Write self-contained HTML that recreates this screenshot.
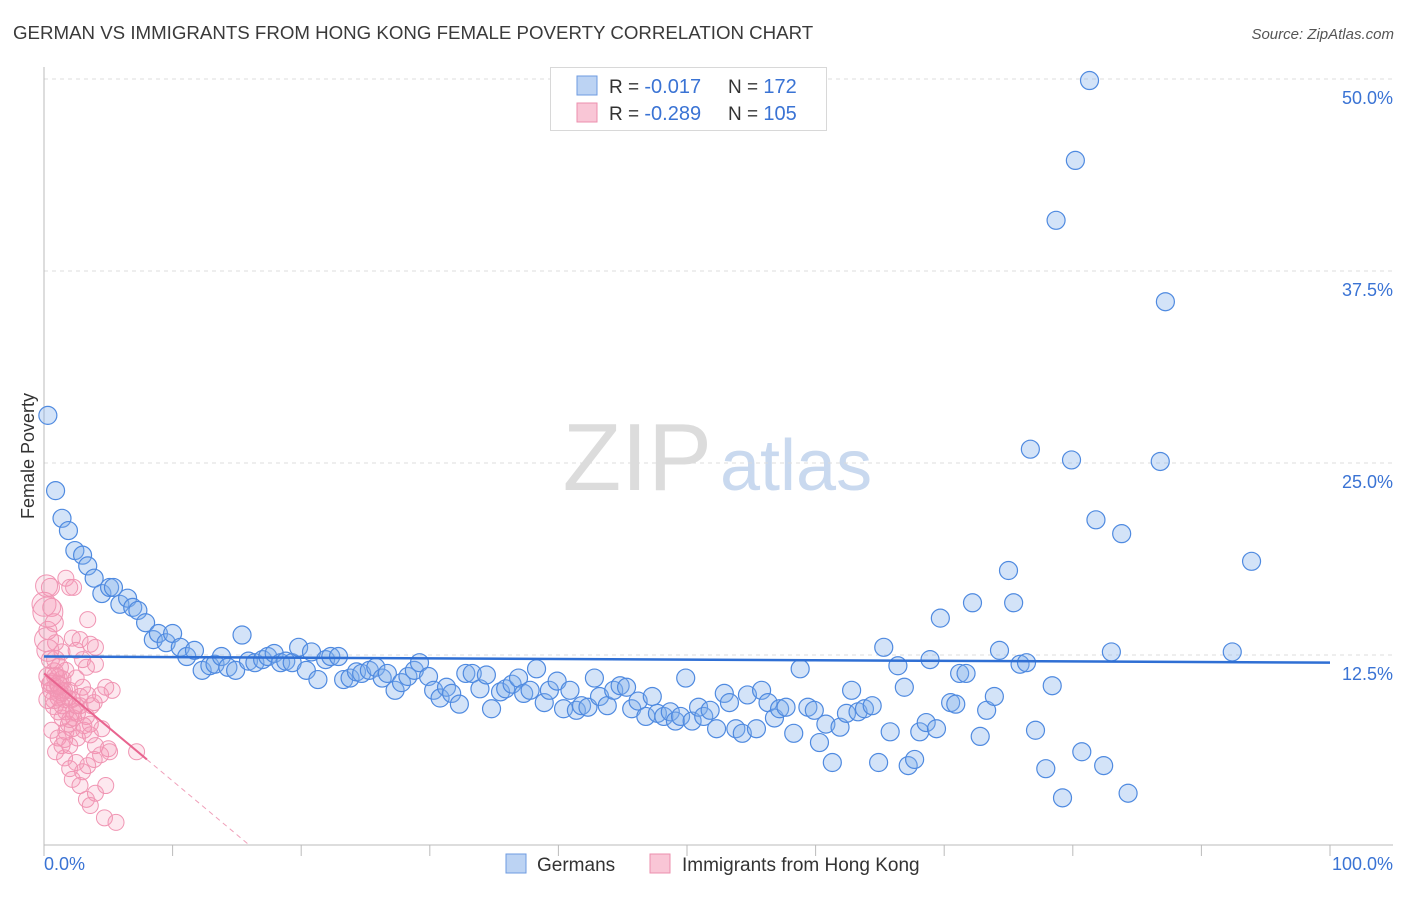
<!DOCTYPE html>
<html><head><meta charset="utf-8">
<style>
body{margin:0;background:#fff;font-family:"Liberation Sans",sans-serif;}
svg text{font-family:"Liberation Sans",sans-serif;}
</style></head>
<body>
<svg id="chart" width="1406" height="892" viewBox="0 0 1406 892" xmlns="http://www.w3.org/2000/svg">
<text x="13" y="39" font-size="18.7" fill="#3a3a3a">GERMAN VS IMMIGRANTS FROM HONG KONG FEMALE POVERTY CORRELATION CHART</text>
<text x="1394" y="39" font-size="15" fill="#555" font-style="italic" text-anchor="end">Source: ZipAtlas.com</text>
<g>
<text x="712" y="490" font-size="96" fill="#dcdcdc" text-anchor="end" font-family="Liberation Serif,serif">ZIP</text>
<text x="720" y="490" font-size="72" fill="#c9d9ef">atlas</text>
</g>
<g id="grid"></g>
<g id="axes"></g>
<g id="blue"></g>
<g id="pink"></g>
<g id="trends"></g>
<g>
<rect x="550.5" y="67.5" width="276" height="63" fill="#fff" stroke="#d8d8d8"/>
<rect x="577" y="76" width="20" height="19" fill="#bcd3f3" stroke="#6e9be0"/>
<rect x="577" y="103" width="20" height="19" fill="#f9c6d6" stroke="#ec8fae"/>
<text x="609" y="93" font-size="19" fill="#333">R = <tspan fill="#3a73d4" font-size="20">-0.017</tspan></text>
<text x="728" y="93" font-size="19" fill="#333">N = <tspan fill="#3a73d4" font-size="20"> 172</tspan></text>
<text x="609" y="120" font-size="19" fill="#333">R = <tspan fill="#3a73d4" font-size="20">-0.289</tspan></text>
<text x="728" y="120" font-size="19" fill="#333">N = <tspan fill="#3a73d4" font-size="20"> 105</tspan></text>
</g>
<g>
<rect x="506" y="854" width="20" height="19" fill="#bcd3f3" stroke="#6e9be0"/>
<text x="537" y="871" font-size="19" fill="#333">Germans</text>
<rect x="650" y="854" width="20" height="19" fill="#f9c6d6" stroke="#ec8fae"/>
<text x="682" y="871" font-size="19" fill="#333">Immigrants from Hong Kong</text>
</g>
<text transform="translate(34,456) rotate(-90)" font-size="18" fill="#333" text-anchor="middle">Female Poverty</text>
</svg>
<script>
const yTicks=[12.5,25,37.5,50];
const yTickLabels=["12.5%","25.0%","37.5%","50.0%"];
const xTickLabels=["0.0%","100.0%"];
const blueX=[0.3,0.9,1.4,1.9,2.4,3.0,3.4,3.9,4.5,5.1,5.4,5.9,6.5,6.9,7.3,7.9,8.5,8.9,9.5,10.0,10.6,11.1,11.7,12.3,12.9,13.3,13.8,14.3,14.9,15.4,15.9,16.4,17.0,17.4,17.9,18.4,18.8,19.3,19.8,20.4,20.8,21.3,21.9,22.3,22.9,23.3,23.8,24.3,24.7,25.3,25.8,26.3,26.7,27.3,27.8,28.3,28.8,29.2,29.9,30.3,30.8,31.3,31.7,32.3,32.8,33.3,33.9,34.4,34.8,35.5,35.9,36.4,36.9,37.3,37.8,38.3,38.9,39.3,39.9,40.4,40.9,41.4,41.8,42.3,42.8,43.2,43.8,44.3,44.8,45.3,45.7,46.2,46.8,47.3,47.7,48.2,48.7,49.1,49.5,49.9,50.4,50.9,51.3,51.8,52.3,52.9,53.3,53.8,54.3,54.7,55.4,55.8,56.3,56.8,57.2,57.7,58.3,58.8,59.4,59.9,60.3,60.8,61.3,61.9,62.4,62.8,63.3,63.8,64.4,64.9,65.3,65.8,66.4,66.9,67.2,67.7,68.1,68.6,68.9,69.4,69.7,70.5,70.9,71.2,71.7,72.2,72.8,73.3,73.9,74.3,75.0,75.4,75.9,76.4,76.7,77.1,77.9,78.4,78.7,79.2,79.9,80.2,80.7,81.3,81.8,82.4,83.0,83.8,84.3,86.8,87.2,92.4,93.9];
const blueY=[28.1,23.2,21.4,20.6,19.3,19.0,18.3,17.5,16.5,16.9,16.9,15.8,16.2,15.6,15.4,14.6,13.5,13.9,13.3,13.9,13.0,12.4,12.8,11.5,11.8,11.9,12.4,11.7,11.5,13.8,12.1,12.0,12.2,12.4,12.6,12.0,12.1,12.0,13.0,11.5,12.7,10.9,12.2,12.4,12.4,10.9,11.0,11.4,11.3,11.5,11.7,11.0,11.3,10.2,10.7,11.1,11.5,12.0,11.1,10.2,9.7,10.4,10.0,9.3,11.3,11.3,10.3,11.2,9.0,10.1,10.3,10.6,11.0,10.0,10.2,11.6,9.4,10.2,10.8,9.0,10.2,8.9,9.2,9.1,11.0,9.8,9.2,10.2,10.5,10.4,9.0,9.5,8.5,9.8,8.7,8.5,8.8,8.2,8.5,11.0,8.2,9.1,8.5,8.9,7.7,10.0,9.4,7.7,7.4,9.9,7.7,10.2,9.4,8.4,9.0,9.1,7.4,11.6,9.1,8.9,6.8,8.0,5.5,7.8,8.7,10.2,8.8,9.0,9.2,5.5,13.0,7.5,11.8,10.4,5.3,5.7,7.5,8.1,12.2,7.7,14.9,9.4,9.3,11.3,11.3,15.9,7.2,8.9,9.8,12.8,18.0,15.9,11.9,12.0,25.9,7.6,5.1,10.5,40.8,3.2,25.2,44.7,6.2,49.9,21.3,5.3,12.7,20.4,3.5,25.1,35.5,12.7,18.6];
const pinkX=[0.5,0.6,0.3,0.8,1.7,2.0,2.3,0.9,1.4,2.2,2.8,3.4,3.6,4.0,0.5,0.8,1.1,1.4,1.7,0.5,0.9,1.2,1.6,2.0,2.5,3.0,3.4,3.9,0.3,0.8,1.1,1.4,1.9,2.3,2.8,3.3,3.7,4.4,4.8,5.3,0.6,1.1,1.4,1.7,2.2,2.6,3.1,3.6,4.0,4.5,5.0,0.9,1.6,2.0,2.5,3.0,3.4,3.9,4.4,5.1,7.2,2.2,2.8,3.3,4.0,4.8,3.6,4.7,5.6,0.3,0.6,0.9,1.2,1.6,1.9,2.2,2.6,3.1,3.6,1.6,2.0,2.3,2.8,3.3,0.0,0.2,0.3,3.0,2.5,4.0,1.1,1.4,1.7,2.0,2.5,0.8,1.1,1.4,0.6,0.9,1.2,0.3,0.2];
const pinkY=[16.9,15.6,14.1,14.6,17.5,16.9,16.9,13.3,12.7,13.6,13.5,14.8,13.2,13.0,12.2,11.4,11.0,10.9,11.5,10.6,10.4,10.0,9.6,10.2,11.0,10.4,9.9,9.4,9.6,9.2,8.8,8.4,8.0,8.8,9.2,8.5,9.2,9.9,10.4,10.2,7.6,7.1,6.6,7.5,7.7,7.1,7.6,8.0,6.6,7.7,6.4,6.2,5.8,5.1,5.5,4.9,5.3,5.7,6.0,6.2,6.2,4.4,4.0,3.1,3.5,4.0,2.7,1.9,1.6,11.1,10.2,12.2,11.7,10.2,9.7,9.6,8.7,7.9,7.3,7.0,6.6,8.4,9.8,11.7,15.8,13.5,12.8,12.2,12.8,11.9,9.7,9.2,8.8,8.3,9.2,9.6,10.6,10.1,10.7,11.1,10.5,15.3,17.0];
const pinkR=[9,9,9,9,8,8,8,8,8,8,8,8,8,8,9,9,9,9,8,9,9,9,8,8,8,8,8,8,9,9,8,8,8,8,8,8,8,8,8,8,8,8,8,8,8,8,8,8,8,8,8,8,8,8,8,8,8,8,8,8,8,8,8,8,8,8,8,8,8,9,9,9,9,8,8,8,8,8,8,8,8,8,8,8,12,12,11,8,8,8,8,8,8,8,8,9,9,9,9,9,9,15,11];
const blueTrend=[12.4,12.0];
const pinkTrend=[11.3,5.7];
const pinkSolidEnd=8, pinkDashEnd=16;

const NS="http://www.w3.org/2000/svg";
const X0=44,X1=1330,Y0=847,PXY=15.36;
function sx(v){return X0+(X1-X0)*v/100;}
function sy(v){return Y0-v*PXY;}
function mk(tag,attrs,parent){const e=document.createElementNS(NS,tag);for(const k in attrs)e.setAttribute(k,attrs[k]);parent.appendChild(e);return e;}
const grid=document.getElementById('grid'),axes=document.getElementById('axes');
yTicks.forEach((t,i)=>{
  const l=mk('line',{x1:44,x2:1393,y1:sy(t),y2:sy(t),stroke:'#dcdcdc','stroke-dasharray':'4,4'},grid);
  
  
  const tx=mk('text',{x:1393,y:sy(t)+25,'font-size':18,fill:'#3a73d4','text-anchor':'end'},grid);
  tx.textContent=yTickLabels[i];
  
  
});
const ya=mk('line',{x1:44,x2:44,y1:67,y2:845,stroke:'#bbb'},axes);


const xa=mk('line',{x1:44,x2:1393,y1:845,y2:845,stroke:'#bbb'},axes);


for(let i=0;i<=10;i++){
  const tk=mk('line',{x1:sx(i*10),x2:sx(i*10),y1:845,y2:856,stroke:'#bbb'},axes);
  
  
}
const xl0=mk('text',{x:44,y:870,'font-size':18,fill:'#3a73d4'},axes);xl0.textContent=xTickLabels[0];


const xl1=mk('text',{x:1393,y:870,'font-size':18,fill:'#3a73d4','text-anchor':'end'},axes);xl1.textContent=xTickLabels[1];



const bg=document.getElementById('blue');
blueX.forEach((v,i)=>{
  const c=mk('circle',{cx:sx(v),cy:sy(blueY[i]),r:9,fill:'rgba(130,175,235,0.35)',stroke:'#4f8ae0','stroke-width':1.2},bg);
  
  
});
const pg=document.getElementById('pink');
pinkX.forEach((v,i)=>{
  const c=mk('circle',{cx:sx(v),cy:sy(pinkY[i]),r:pinkR[i]||8,fill:'rgba(245,150,180,0.22)',stroke:'#f095b3','stroke-width':1},pg);
  
  
});
const tg=document.getElementById('trends');
const bl=mk('line',{x1:sx(0),y1:sy(blueTrend[0]),x2:sx(100),y2:sy(blueTrend[1]),stroke:'#2f6fd4','stroke-width':2.5},tg);


const slope=(pinkTrend[1]-pinkTrend[0])/pinkSolidEnd;
const pl=mk('line',{x1:sx(0),y1:sy(pinkTrend[0]),x2:sx(pinkSolidEnd),y2:sy(pinkTrend[1]),stroke:'#e8648f','stroke-width':2},tg);


const pd=mk('line',{x1:sx(pinkSolidEnd),y1:sy(pinkTrend[1]),x2:sx(pinkDashEnd),y2:sy(pinkTrend[0]+slope*pinkDashEnd),stroke:'#f0a0ba','stroke-width':1,'stroke-dasharray':'5,4'},tg);


</script>
</body></html>
